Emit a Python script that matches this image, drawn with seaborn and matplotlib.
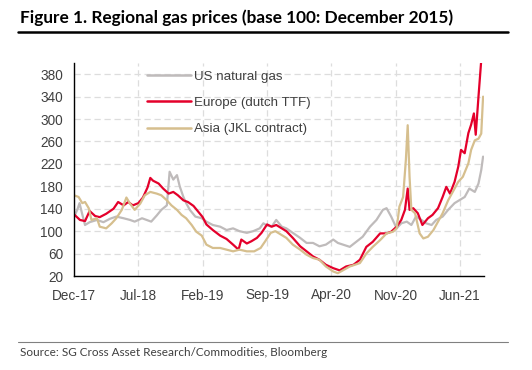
import pandas as pd
import seaborn as sns
import matplotlib.pyplot as plt
from matplotlib.lines import Line2D

# Datos (x = meses desde dic-2017, base 100 = dic-2015)
us_x = [0, 0.4, 0.6, 0.9, 1.2, 1.7, 2.5, 3.2, 3.9, 4.6, 5.4, 6.1, 6.6, 7.4, 7.9, 8.4, 9.0, 9.5,
        10.1, 10.4, 10.8, 11.2, 11.5, 11.9, 12.2, 12.6, 13.2, 13.9, 14.4, 15.1, 15.9, 16.6, 17.3,
        18.0, 18.8, 19.5, 20.2, 20.6, 20.9, 21.5, 22.0, 22.6, 23.1, 23.8, 24.6, 25.3, 26.0, 26.7,
        27.4, 28.2, 28.7, 30.0, 30.7, 31.4, 32.2, 32.9, 33.6, 34.0, 34.5, 35.1, 35.6, 36.2, 36.7,
        37.2, 37.8, 38.3, 38.9, 39.4, 40.1, 40.7, 41.4, 41.9, 42.5, 43.0, 43.6, 44.0, 44.3, 44.5]
us_val = [125, 140, 150, 130, 111, 116, 120, 116, 122, 126, 123, 120, 117, 123, 120, 117, 128, 138,
          146, 206, 192, 200, 180, 161, 150, 138, 126, 123, 117, 111, 108, 102, 105,
          100, 97, 100, 105, 114, 111, 108, 120, 108, 105, 97, 88, 79, 79, 73,
          76, 85, 79, 72, 81, 90, 108, 120, 138, 141, 126, 105, 114, 117, 111,
          126, 120, 114, 111, 120, 126, 138, 150, 155, 161, 176, 170, 185, 209, 233]

eu_x = [0, 0.65, 1.2, 1.7, 2.3, 2.8, 3.5, 4.3, 4.8, 5.4, 5.9, 6.4, 7.0, 7.5, 8.0, 8.3, 8.6, 9.2,
        9.7, 10.3, 10.8, 11.3, 11.9, 12.4, 13.0, 13.5, 14.0, 14.4, 15.1, 15.9, 16.6, 17.3, 17.9,
        18.2, 18.8, 19.3, 19.9, 20.4, 21.0, 21.5, 22.0, 22.6, 23.1, 23.8, 24.6, 25.3, 26.0, 26.7,
        27.4, 28.2, 28.9, 29.6, 30.4, 31.1, 31.8, 32.5, 33.3, 34.0, 34.5, 35.1, 35.6, 36.0, 36.3,
        36.5, 36.9, 37.4, 37.9, 38.5, 39.0, 39.6, 40.1, 40.5, 40.9, 41.4, 41.8, 42.1, 42.5, 42.9,
        43.2, 43.5, 43.7, 44.0, 44.3]
eu_val = [130, 120, 118, 136, 127, 125, 131, 140, 152, 146, 152, 146, 150, 160, 178, 195, 190, 185,
          176, 167, 170, 164, 155, 152, 145, 135, 125, 112, 102, 92, 86, 76, 67,
          85, 78, 82, 88, 97, 112, 108, 111, 105, 100, 88, 73, 64, 55, 49,
          40, 34, 30, 37, 40, 49, 72, 81, 96, 96, 99, 108, 120, 138, 176,
          138, 141, 132, 111, 123, 129, 141, 161, 179, 167, 188, 215, 245, 239, 275,
          290, 310, 272, 340, 405]

asia_x = [0, 0.5, 0.9, 1.2, 1.6, 1.9, 2.5, 2.8, 3.5, 4.1, 4.6, 5.2, 5.7, 6.1, 6.6, 7.2, 7.7, 8.3,
          9.0, 9.5, 10.1, 10.6, 11.2, 11.7, 12.2, 12.8, 13.3, 13.9, 14.4, 15.1, 15.9, 16.6, 17.3,
          18.0, 18.8, 19.6, 20.3, 20.8, 21.4, 21.9, 22.5, 23.1, 23.8, 24.6, 25.3, 26.0, 26.7, 27.4,
          28.2, 28.7, 30.0, 31.1, 31.8, 32.5, 33.3, 34.0, 34.7, 35.1, 35.4, 35.8, 36.1, 36.3, 36.5,
          36.7, 37.1, 37.6, 38.0, 38.5, 39.1, 39.6, 40.1, 40.7, 41.2, 41.8, 42.3, 42.9, 43.2, 43.6,
          44.0, 44.3, 44.5]
asia_val = [164, 161, 150, 152, 141, 120, 123, 108, 105, 114, 123, 138, 160, 149, 138, 149, 164, 170,
            167, 164, 155, 146, 138, 129, 123, 111, 99, 92, 76, 70, 70, 67, 64,
            67, 64, 64, 70, 82, 97, 100, 94, 88, 76, 67, 58, 52, 49, 37,
            28, 25, 37, 43, 60, 72, 84, 96, 99, 105, 144, 161, 227, 289, 197,
            138, 132, 96, 87, 90, 102, 117, 132, 155, 170, 188, 197, 221, 245, 262,
            265, 274, 340]

series_names = ['US natural gas', 'Europe (dutch TTF)', 'Asia (JKL contract)']
series_colors = ['#BFBBBB', '#E4002B', '#D6BF8E']
tick_pos = [0, 7, 14, 21, 28, 35, 42]
tick_labels = ['Dec-17', 'Jul-18', 'Feb-19', 'Sep-19', 'Apr-20', 'Nov-20', 'Jun-21']
y_ticks = [20, 60, 100, 140, 180, 220, 260, 300, 340, 380]

df = pd.concat([
    pd.DataFrame({'x': us_x, 'valor': us_val, 'serie': series_names[0]}),
    pd.DataFrame({'x': eu_x, 'valor': eu_val, 'serie': series_names[1]}),
    pd.DataFrame({'x': asia_x, 'valor': asia_val, 'serie': series_names[2]}),
])

sns.set_style('white')
plt.rcParams['font.family'] = ['Liberation Sans', 'DejaVu Sans']

fig = plt.figure(figsize=(5.32, 3.70), dpi=100)
ax = fig.add_axes([74 / 532, 94 / 370, 410 / 532, 213 / 370])

# Rejilla discontinua
for t in tick_pos:
    ax.axvline(t, color='#DDDDDD', lw=0.9, ls=(0, (5, 3)), zorder=0)
for t in y_ticks:
    ax.axhline(t, color='#DDDDDD', lw=0.9, ls=(0, (5, 3)), zorder=0)

sns.lineplot(data=df, x='x', y='valor', hue='serie', hue_order=series_names,
             palette=series_colors, estimator=None, sort=False, lw=1.6, ax=ax, legend=False)

ax.set_xlim(0, 44.6)
ax.set_ylim(20, 400)
ax.set_xticks(tick_pos)
ax.set_xticklabels(tick_labels)
ax.set_yticks(y_ticks)
ax.set_xlabel('')
ax.set_ylabel('')
for s in ['top', 'right']:
    ax.spines[s].set_visible(False)
for s in ['left', 'bottom']:
    ax.spines[s].set_color('black')
    ax.spines[s].set_linewidth(1.0)
ax.tick_params(axis='both', direction='inout', length=6, width=1, color='black',
               labelsize=9.8, labelcolor='#404040', pad=5)
ax.tick_params(axis='x', pad=6)

handles = [Line2D([], [], color=c, lw=1.8) for c in series_colors]
ax.legend(handles, series_names, loc='upper left', bbox_to_anchor=(0.165, 0.99), frameon=False,
          fontsize=9.6, labelcolor='#404040', handlelength=3.3, handletextpad=0.2,
          labelspacing=1.05, borderaxespad=0)

# Título y fuente
fig.text(20 / 532, 1 - 18 / 370, 'Figure 1. Regional gas prices (base 100: December 2015)',
         fontsize=12.45, fontweight='bold', family='Lato', va='center', ha='left', color='black')
fig.add_artist(Line2D([18 / 532, 508 / 532], [1 - 32 / 370, 1 - 32 / 370], color='black', lw=1.8))
fig.add_artist(Line2D([18 / 532, 508 / 532], [1 - 342 / 370, 1 - 342 / 370], color='#808080', lw=0.8))
fig.text(20 / 532, 1 - 353 / 370, 'Source: SG Cross Asset Research/Commodities, Bloomberg',
         fontsize=8.5, family='Lato', va='center', ha='left', color='#404040')

plt.savefig('out.png', dpi=100)
